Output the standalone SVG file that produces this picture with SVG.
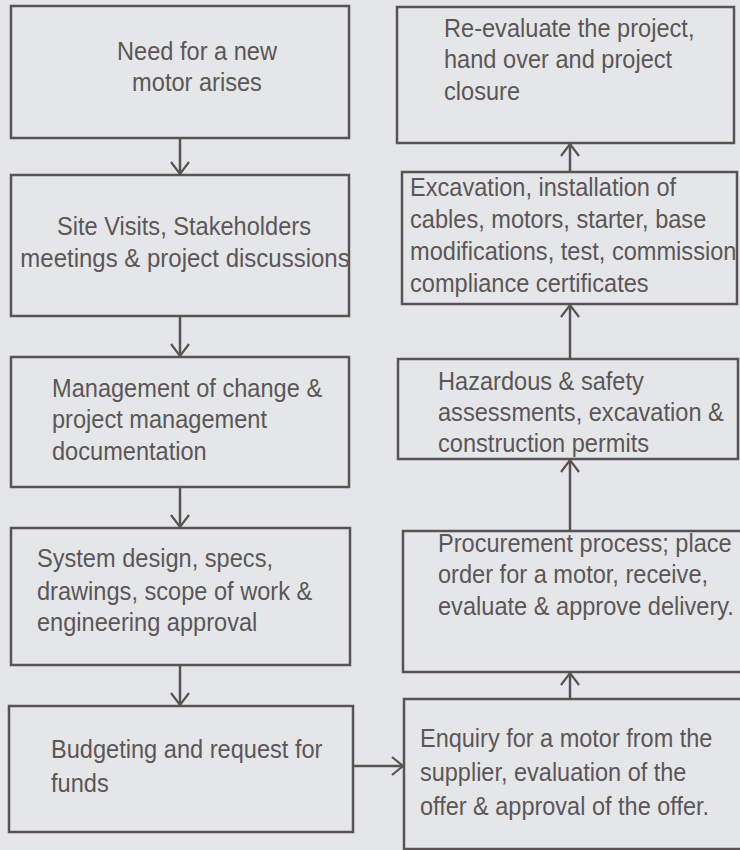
<svg xmlns="http://www.w3.org/2000/svg" width="740" height="850" viewBox="0 0 740 850">
  <defs>
    <style>
      .box { fill: none; stroke: #5a5355; stroke-width: 2.5; }
      .lbl { font-family: "Liberation Sans", Arial, sans-serif; font-size: 25px; fill: #5c5658; }
      .mid { text-anchor: middle; }
      .conn { fill: none; stroke: #5a5355; stroke-width: 2.5; }
      .head { fill: none; stroke: #5a5355; stroke-width: 2.2; stroke-linejoin: miter; }
    </style>
  </defs>
  <rect width="740" height="850" fill="#e5e6e8"/>

  <!-- left column -->
  <g id="need">
    <rect class="box" x="11" y="6" width="338" height="132"/>
    <text class="lbl mid" transform="translate(197 60) scale(0.944 1)">Need for a new</text>
    <text class="lbl mid" transform="translate(197 91) scale(0.944 1)">motor arises</text>
  </g>
  <g id="site-visits">
    <rect class="box" x="11" y="175" width="338" height="141"/>
    <text class="lbl mid" transform="translate(184 235) scale(0.944 1)">Site Visits, Stakeholders</text>
    <text class="lbl mid" transform="translate(185 267) scale(0.96 1)">meetings &amp; project discussions</text>
  </g>
  <g id="moc">
    <rect class="box" x="11" y="357" width="338" height="130"/>
    <text class="lbl" transform="translate(52 397) scale(0.944 1)">Management of change &amp;</text>
    <text class="lbl" transform="translate(52 428) scale(0.944 1)">project management</text>
    <text class="lbl" transform="translate(52 460) scale(0.944 1)">documentation</text>
  </g>
  <g id="design">
    <rect class="box" x="11" y="528" width="339" height="137"/>
    <text class="lbl" transform="translate(37 567) scale(0.944 1)">System design, specs,</text>
    <text class="lbl" transform="translate(37 600) scale(0.944 1)">drawings, scope of work &amp;</text>
    <text class="lbl" transform="translate(37 631) scale(0.944 1)">engineering approval</text>
  </g>
  <g id="budget">
    <rect class="box" x="9" y="706" width="344" height="126"/>
    <text class="lbl" transform="translate(51 758) scale(0.944 1)">Budgeting and request for</text>
    <text class="lbl" transform="translate(51 792) scale(0.944 1)">funds</text>
  </g>

  <!-- right column -->
  <g id="closure">
    <rect class="box" x="397" y="7" width="337" height="136"/>
    <text class="lbl" transform="translate(444 37) scale(0.944 1)">Re-evaluate the project,</text>
    <text class="lbl" transform="translate(444 68) scale(0.944 1)">hand over and project</text>
    <text class="lbl" transform="translate(444 100) scale(0.944 1)">closure</text>
  </g>
  <g id="installation">
    <rect class="box" x="402" y="172" width="335" height="132"/>
    <text class="lbl" transform="translate(410 196) scale(0.944 1)">Excavation, installation of</text>
    <text class="lbl" transform="translate(410 228) scale(0.944 1)">cables, motors, starter, base</text>
    <text class="lbl" transform="translate(410 260) scale(0.944 1)">modifications, test, commission</text>
    <text class="lbl" transform="translate(410 292) scale(0.944 1)">compliance certificates</text>
  </g>
  <g id="permits">
    <rect class="box" x="398" y="359" width="340" height="100"/>
    <text class="lbl" transform="translate(438 390) scale(0.944 1)">Hazardous &amp; safety</text>
    <text class="lbl" transform="translate(438 421) scale(0.944 1)">assessments, excavation &amp;</text>
    <text class="lbl" transform="translate(438 452) scale(0.944 1)">construction permits</text>
  </g>
  <g id="procurement">
    <rect class="box" x="403" y="531" width="340" height="141"/>
    <text class="lbl" transform="translate(438 552) scale(0.944 1)">Procurement process; place</text>
    <text class="lbl" transform="translate(438 583) scale(0.944 1)">order for a motor, receive,</text>
    <text class="lbl" transform="translate(438 615) scale(0.944 1)">evaluate &amp; approve delivery.</text>
  </g>
  <g id="enquiry">
    <rect class="box" x="404" y="699" width="340" height="150"/>
    <text class="lbl" transform="translate(420 747) scale(0.94 1)">Enquiry for a motor from the</text>
    <text class="lbl" transform="translate(420 781) scale(0.94 1)">supplier, evaluation of the</text>
    <text class="lbl" transform="translate(420 815) scale(0.94 1)">offer &amp; approval of the offer.</text>
  </g>

  <!-- connectors with open V heads -->
  <g id="connectors">
    <line class="conn" x1="180" y1="138" x2="180" y2="175"/>
    <polyline class="head" points="171,162 180,174 189,162"/>
    <line class="conn" x1="180" y1="316" x2="180" y2="357"/>
    <polyline class="head" points="171,344 180,356 189,344"/>
    <line class="conn" x1="180" y1="487" x2="180" y2="528"/>
    <polyline class="head" points="171,515 180,527 189,515"/>
    <line class="conn" x1="180" y1="665" x2="180" y2="706"/>
    <polyline class="head" points="171,693 180,705 189,693"/>

    <line class="conn" x1="353" y1="766" x2="404" y2="766"/>
    <polyline class="head" points="392,757 403,766 392,775"/>

    <line class="conn" x1="570" y1="699" x2="570" y2="672"/>
    <polyline class="head" points="561,685 570,673 579,685"/>
    <line class="conn" x1="570" y1="531" x2="570" y2="459"/>
    <polyline class="head" points="561,472 570,460 579,472"/>
    <line class="conn" x1="570" y1="359" x2="570" y2="304"/>
    <polyline class="head" points="561,317 570,305 579,317"/>
    <line class="conn" x1="570" y1="172" x2="570" y2="143"/>
    <polyline class="head" points="561,156 570,144 579,156"/>
  </g>
</svg>
